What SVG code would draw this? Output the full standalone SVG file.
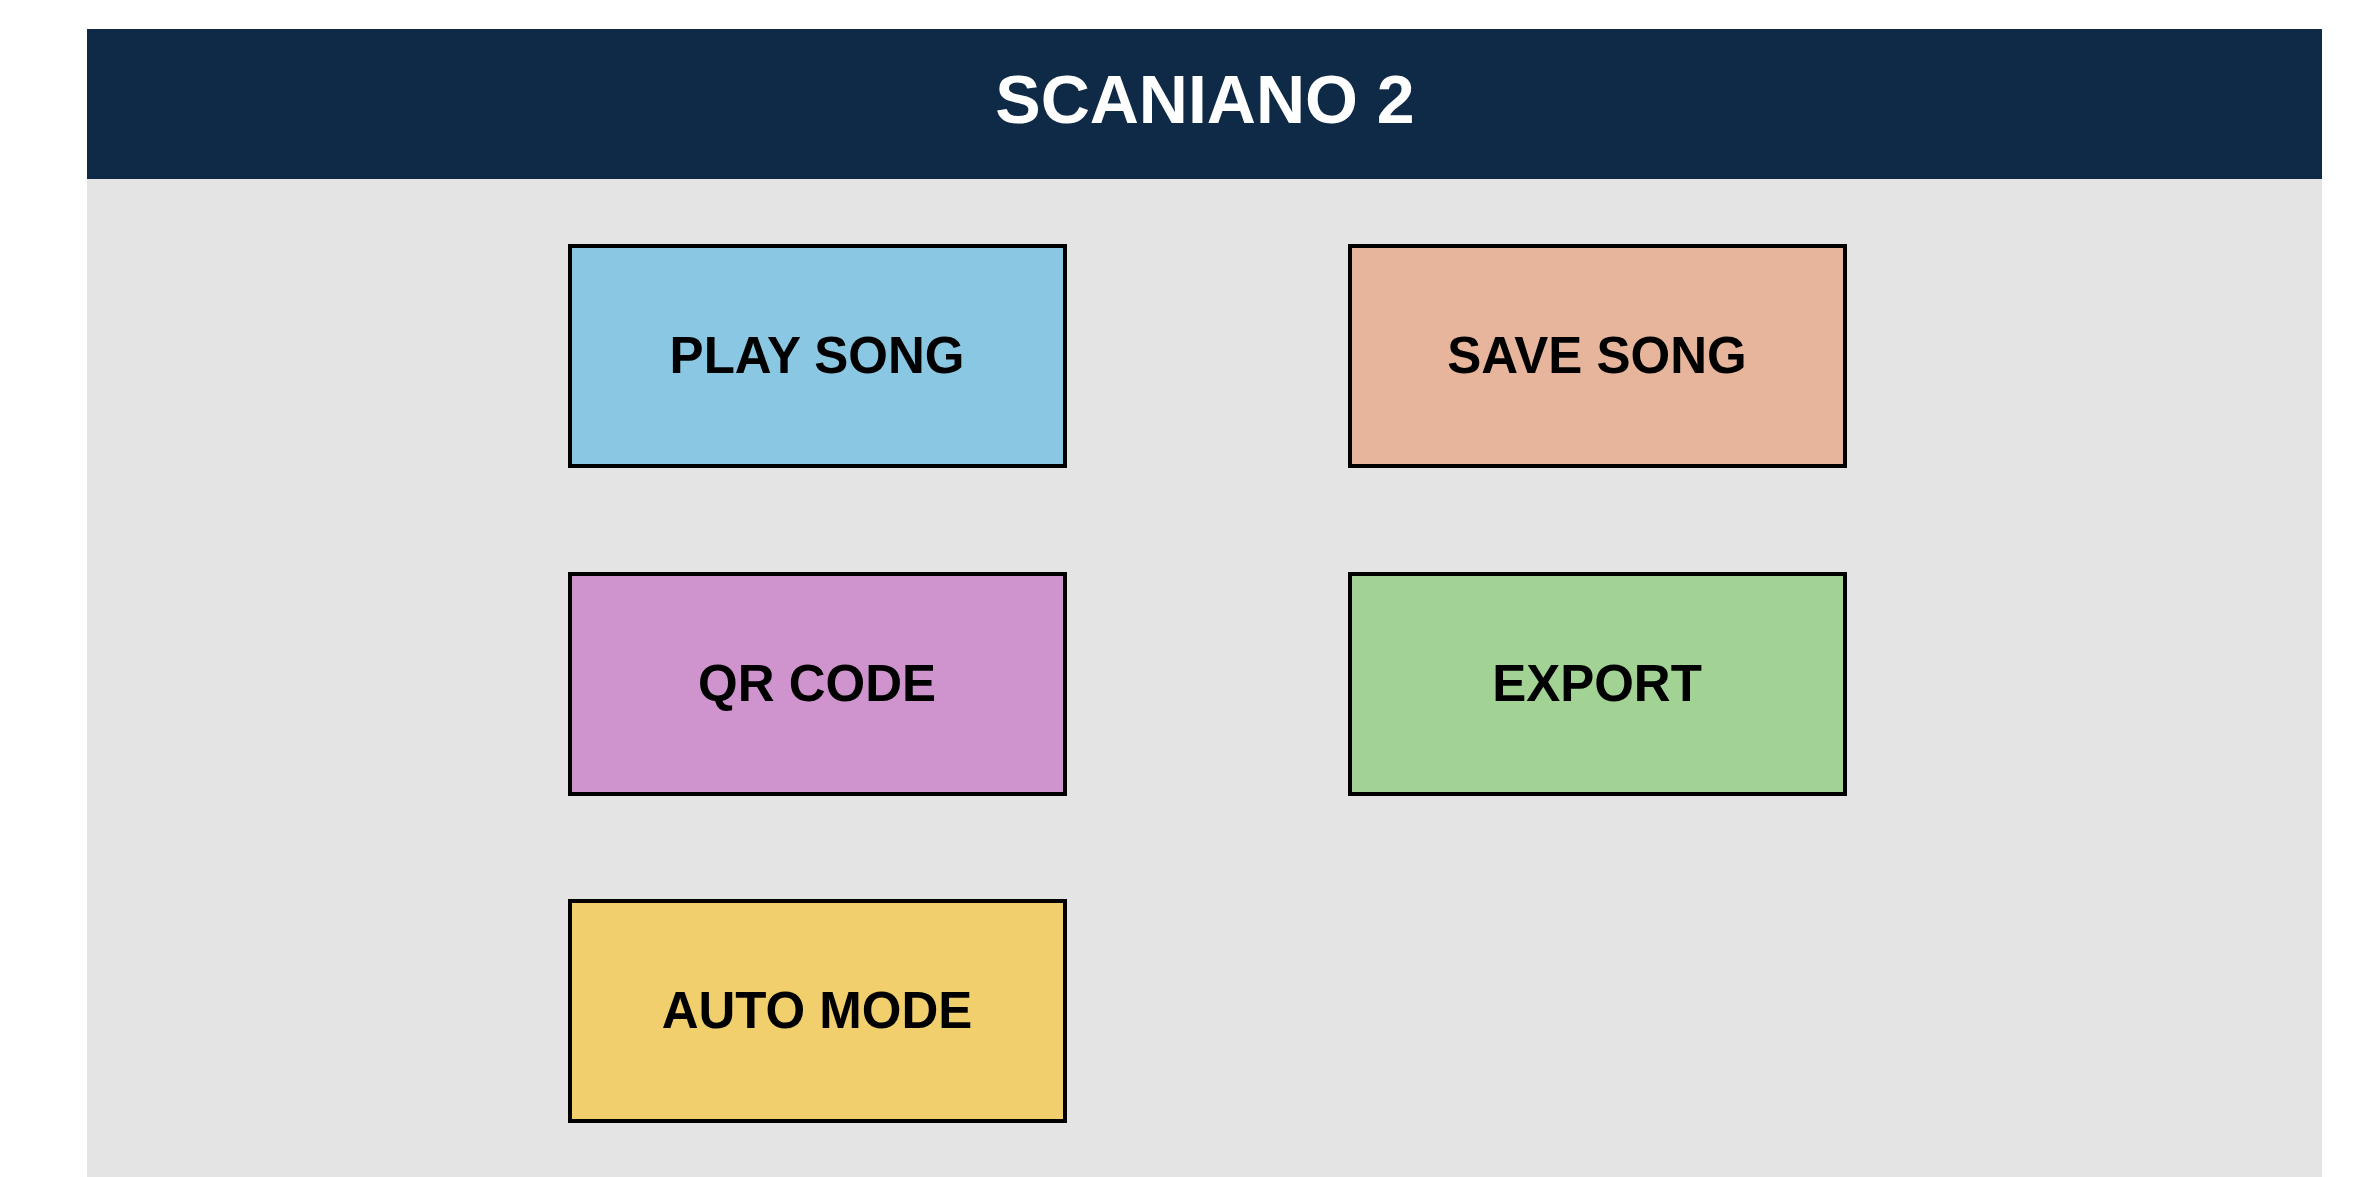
<svg xmlns="http://www.w3.org/2000/svg" width="2359" height="1177" viewBox="0 0 2359 1177">
  <style>
    .panel { fill: #E4E4E4; }
    .bar { fill: #0F2A47; }
    .title { font-family: "Liberation Sans", Arial, sans-serif; font-weight: bold; font-size: 68px; fill: #FFFFFF; text-anchor: middle; }
    .btn { stroke: #000000; stroke-width: 4; }
    .label { font-family: "Liberation Sans", Arial, sans-serif; font-weight: bold; font-size: 51px; fill: #000000; text-anchor: middle; }
  </style>
  <rect x="0" y="0" width="2359" height="1177" fill="#FFFFFF"/>

  <!-- app body and title bar -->
  <rect class="panel" x="87" y="179" width="2235" height="998"/>
  <rect class="bar" x="87" y="29" width="2235" height="150"/>
  <text class="title" x="1205" y="123">SCANIANO 2</text>

  <!-- menu buttons -->
  <g id="play-song">
    <rect class="btn" x="570" y="246" width="495" height="220" fill="#89C7E2"/>
    <text class="label" x="817" y="373">PLAY SONG</text>
  </g>
  <g id="save-song">
    <rect class="btn" x="1350" y="246" width="495" height="220" fill="#E6B59C"/>
    <text class="label" x="1597" y="373">SAVE SONG</text>
  </g>
  <g id="qr-code">
    <rect class="btn" x="570" y="574" width="495" height="220" fill="#CF94CD"/>
    <text class="label" x="817" y="701">QR CODE</text>
  </g>
  <g id="export">
    <rect class="btn" x="1350" y="574" width="495" height="220" fill="#A2D395"/>
    <text class="label" x="1597" y="701">EXPORT</text>
  </g>
  <g id="auto-mode">
    <rect class="btn" x="570" y="901" width="495" height="220" fill="#F1CF6C"/>
    <text class="label" x="817" y="1028">AUTO MODE</text>
  </g>

  <g id="connectors"></g>
</svg>
